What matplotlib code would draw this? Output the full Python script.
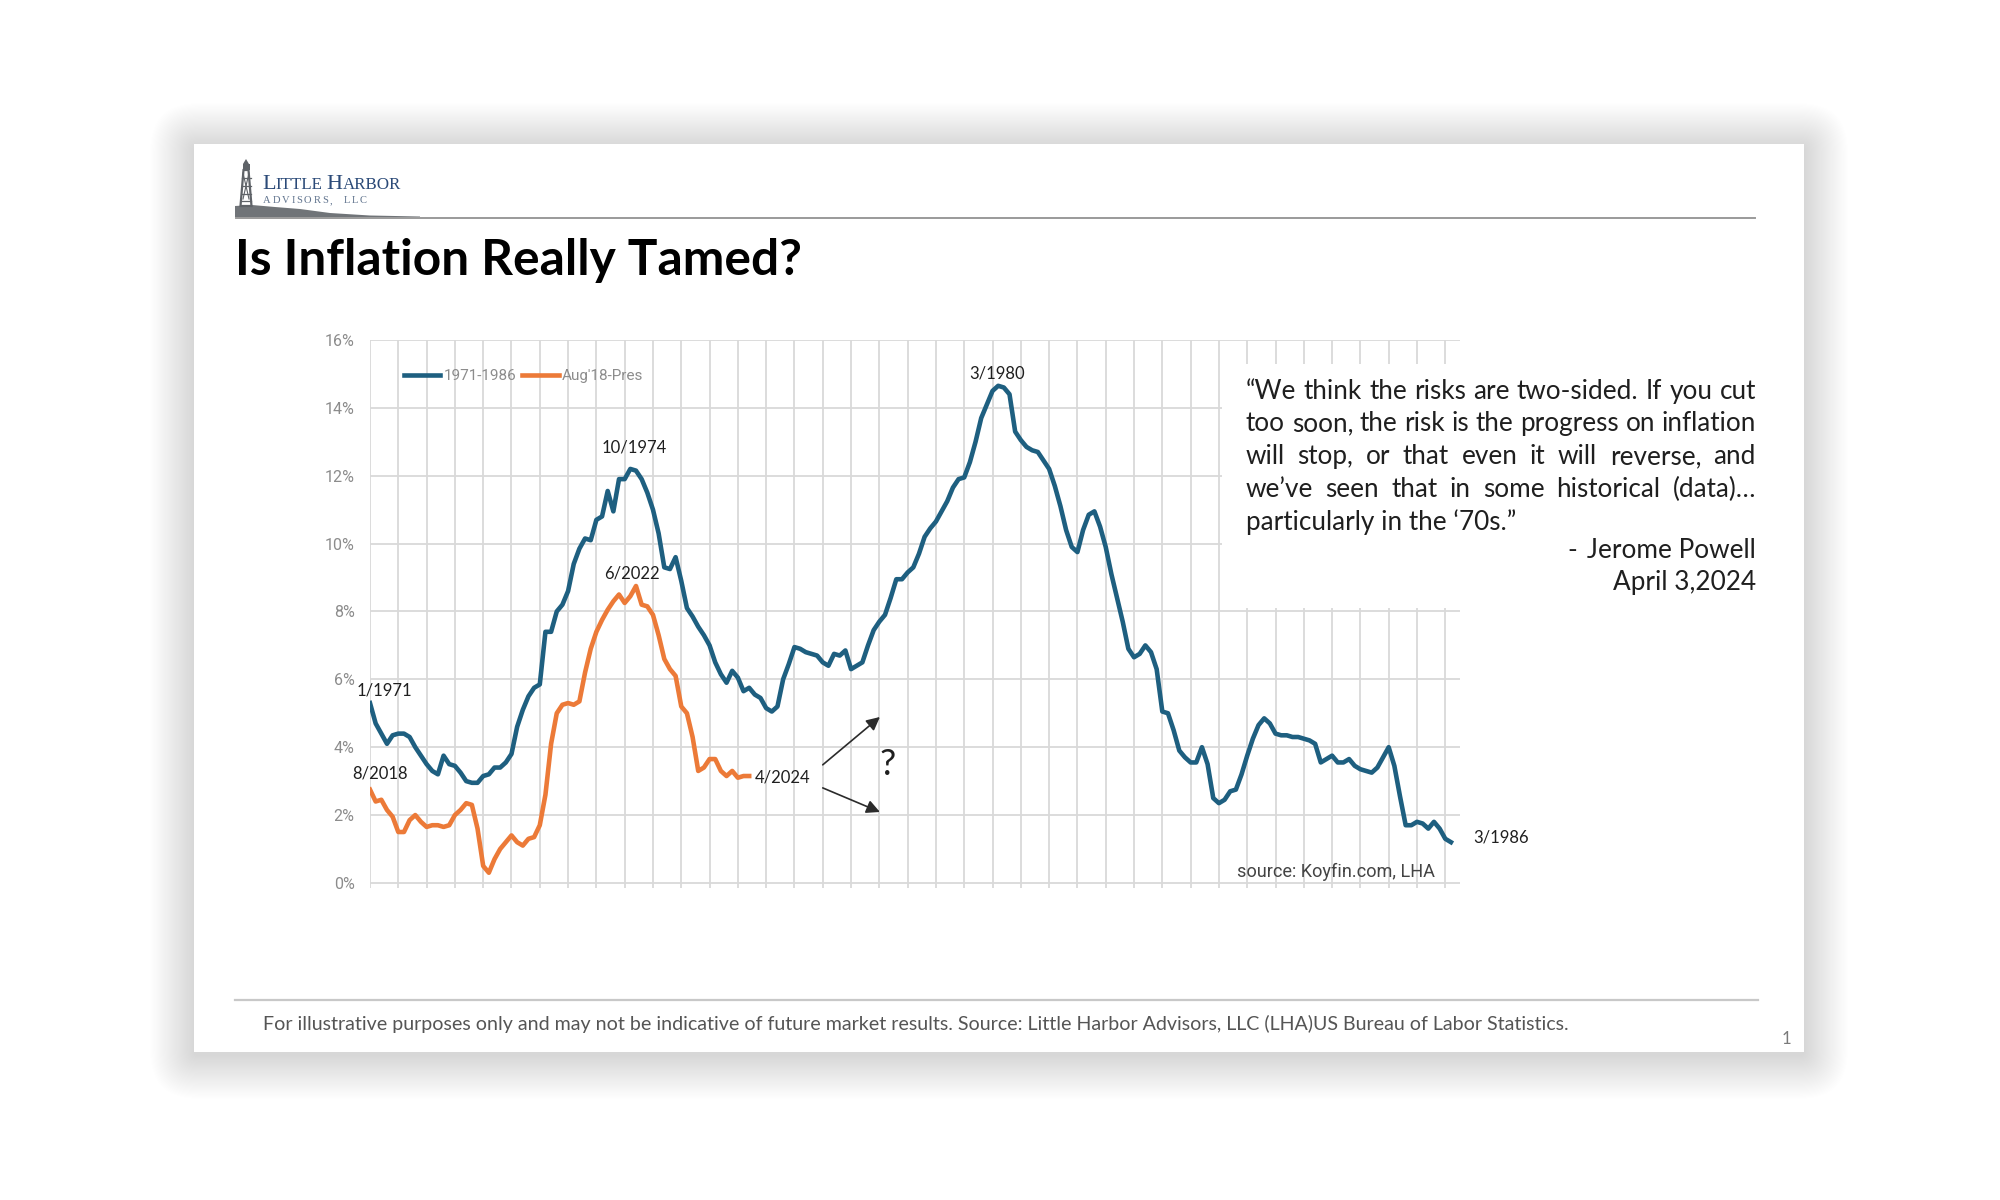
import matplotlib as mpl
mpl.use('Agg')
import numpy as np
import matplotlib.pyplot as plt
from matplotlib.patches import Rectangle, Polygon, FancyBboxPatch

# CPI year-over-year, % (monthly)
cpi_1971_1986 = [
    5.3, 4.7, 4.4, 4.1, 4.35, 4.4, 4.4, 4.3, 4.0, 3.75, 3.5, 3.3,
    3.2, 3.75, 3.5, 3.45, 3.25, 3.0, 2.95, 2.95, 3.15, 3.2, 3.4, 3.4,
    3.55, 3.8, 4.6, 5.1, 5.5, 5.75, 5.85, 7.4, 7.4, 8.0, 8.2, 8.6,
    9.4, 9.85, 10.15, 10.1, 10.7, 10.8, 11.55, 10.95, 11.9, 11.9, 12.2, 12.15,
    11.9, 11.5, 11.0, 10.3, 9.3, 9.25, 9.6, 8.9, 8.1, 7.85, 7.55, 7.3,
    7.0, 6.5, 6.15, 5.9, 6.25, 6.05, 5.65, 5.75, 5.55, 5.45, 5.15, 5.05,
    5.2, 6.0, 6.45, 6.95, 6.9, 6.8, 6.75, 6.7, 6.5, 6.4, 6.75, 6.7,
    6.85, 6.3, 6.4, 6.5, 7.0, 7.45, 7.7, 7.9, 8.4, 8.95, 8.95, 9.15,
    9.3, 9.7, 10.2, 10.45, 10.65, 10.95, 11.25, 11.65, 11.9, 11.95, 12.4, 13.0,
    13.7, 14.1, 14.5, 14.65, 14.6, 14.4, 13.3, 13.05, 12.85, 12.75, 12.7, 12.45,
    12.2, 11.7, 11.1, 10.4, 9.9, 9.75, 10.4, 10.85, 10.95, 10.5, 9.9, 9.1,
    8.4, 7.7, 6.9, 6.65, 6.75, 7.0, 6.8, 6.3, 5.05, 5.0, 4.5, 3.9,
    3.7, 3.55, 3.55, 4.0, 3.5, 2.5, 2.35, 2.45, 2.7, 2.75, 3.2, 3.75,
    4.25, 4.65, 4.85, 4.7, 4.4, 4.35, 4.35, 4.3, 4.3, 4.25, 4.2, 4.1,
    3.55, 3.65, 3.75, 3.55, 3.55, 3.65, 3.45, 3.35, 3.3, 3.25, 3.4, 3.7,
    4.0, 3.45, 2.55, 1.7, 1.7, 1.8, 1.75, 1.6, 1.8, 1.6, 1.3, 1.2,
]
cpi_aug18_pres = [
    2.75, 2.4, 2.45, 2.15, 1.95, 1.5, 1.5, 1.85, 2.0, 1.8,
    1.65, 1.7, 1.7, 1.65, 1.7, 2.0, 2.15, 2.35, 2.3, 1.6,
    0.5, 0.3, 0.7, 1.0, 1.2, 1.4, 1.2, 1.1, 1.3, 1.35,
    1.7, 2.6, 4.1, 5.0, 5.25, 5.3, 5.25, 5.35, 6.2, 6.9,
    7.4, 7.75, 8.05, 8.3, 8.5, 8.25, 8.45, 8.75, 8.2, 8.15,
    7.9, 7.3, 6.6, 6.3, 6.1, 5.2, 5.0, 4.3, 3.3, 3.4,
    3.65, 3.65, 3.3, 3.15, 3.3, 3.1, 3.15, 3.15,
]
series_labels = ['1971-1986', "Aug'18-Pres"]
y_ticks = [0, 2, 4, 6, 8, 10, 12, 14, 16]
y_tick_labels = ['%d%%' % v for v in y_ticks]
months_per_grid = 5

quote_lines = [
    '\u201cWe think the risks are two-sided.  If you cut',
    'too soon, the risk is the progress on inflation',
    'will stop, or that even it will reverse, and',
    'we\u2019ve seen that in some historical (data)\u2026',
    'particularly in the \u201870s.\u201d',
]

BLUE = '#1e5f80'
ORANGE = '#ec7a38'
TXT = '#1f1f1f'

plt.rcParams['font.family'] = ['Lato', 'DejaVu Sans']

W, H = 2000, 1200
fig = plt.figure(figsize=(20, 12), dpi=100)
fig.patch.set_facecolor('white')

def frac(x0, y0, x1, y1):
    return [x0 / W, 1 - y1 / H, (x1 - x0) / W, (y1 - y0) / H]

# background: slide with soft shadow
bg = fig.add_axes([0, 0, 1, 1])
bg.set_xlim(0, W); bg.set_ylim(H, 0); bg.axis('off'); bg.set_zorder(0)
for i in range(40):
    d = 1 + i * 1.1
    bg.add_patch(FancyBboxPatch((194 - d, 147 - d), 1610 + 2 * d, 908 + 2 * d,
                                boxstyle='round,pad=0,rounding_size=%.1f' % (d + 4),
                                fc='black', ec='none', alpha=0.0033))
bg.add_patch(Rectangle((194, 144), 1610, 908, fc='white', ec='none'))

# chart
ax = fig.add_axes(frac(370, 340, 1460, 888))
ax.set_zorder(1)
ax.set_facecolor('none')
x_blue = np.arange(len(cpi_1971_1986))
x_orng = np.arange(len(cpi_aug18_pres))
ax.plot(x_blue, cpi_1971_1986, color=BLUE, lw=3.3, label=series_labels[0], zorder=3,
        solid_joinstyle='round')
ax.plot(x_orng, cpi_aug18_pres, color=ORANGE, lw=3.3, label=series_labels[1], zorder=3,
        solid_joinstyle='round')
ax.set_xlim(0, 192.6)
ax.set_ylim(-0.15, 16)
ax.set_xticks(np.arange(0, len(cpi_1971_1986), months_per_grid))
ax.set_yticks(y_ticks, y_tick_labels)
ax.grid(True, color='#d9d9d9', lw=1.3)
ax.set_axisbelow(True)
ax.tick_params(length=0, labelbottom=False, pad=11)
for lab in ax.get_yticklabels():
    lab.set_fontfamily('Roboto'); lab.set_fontsize(11.5); lab.set_color('#8c8c8c')
for s in ax.spines.values():
    s.set_visible(False)

# white text box covering the grid behind the quote
ax.add_patch(Rectangle((150.5, 8.1), 45, 7.2, fc='white', ec='none', zorder=1))

leg = ax.legend(loc='center left', bbox_to_anchor=(0.024, 0.934), ncol=2, frameon=False,
                handlelength=2.4, handletextpad=0.2, columnspacing=0.4, borderpad=0,
                prop={'family': 'Roboto', 'size': 11})
for t in leg.get_texts():
    t.set_color('#8c8c8c')

lab_kw = dict(textcoords='offset points', fontsize=12, color=TXT)
i74 = int(np.argmax(cpi_1971_1986[:80]))
i80 = int(np.argmax(cpi_1971_1986))
i22 = int(np.argmax(cpi_aug18_pres))
ax.annotate('10/1974', xy=(i74, cpi_1971_1986[i74]), xytext=(3, 10), ha='center', va='bottom', **lab_kw)
ax.annotate('6/2022', xy=(i22, cpi_aug18_pres[i22]), xytext=(-3, 3), ha='center', va='bottom', **lab_kw)
ax.annotate('3/1980', xy=(i80, cpi_1971_1986[i80]), xytext=(-1, 3), ha='center', va='bottom', **lab_kw)
ax.annotate('1/1971', xy=(0, cpi_1971_1986[0]), xytext=(-10, 9), ha='left', va='center', **lab_kw)
ax.annotate('8/2018', xy=(0, cpi_aug18_pres[0]), xytext=(-13, 11.5), ha='left', va='center', **lab_kw)
ax.annotate('4/2024', xy=(x_orng[-1], cpi_aug18_pres[-1]), xytext=(4, -1), ha='left', va='center', **lab_kw)
ax.annotate('3/1986', xy=(x_blue[-1], cpi_1971_1986[-1]), xytext=(16, 3.5), ha='left', va='center', **lab_kw)

# "which way next?" arrows off the last reading
x_end = x_orng[-1]
arr_kw = dict(arrowstyle='-|>', color='#2b2b2b', lw=1.2, mutation_scale=20, shrinkA=0, shrinkB=0)
ax.annotate('', xy=(x_end + 23.1, 4.89), xytext=(x_end + 13, 3.48), arrowprops=arr_kw)
ax.annotate('', xy=(x_end + 23.1, 2.09), xytext=(x_end + 13, 2.80), arrowprops=arr_kw)
ax.text(x_end + 24.5, 3.5, '?', fontsize=26, color=TXT, ha='center', va='center')

# foreground layer in pixel units for slide texts
fg = fig.add_axes([0, 0, 1, 1])
fg.set_xlim(0, W); fg.set_ylim(H, 0); fg.axis('off'); fg.set_zorder(2)
fg.patch.set_alpha(0)
renderer = fig.canvas.get_renderer()

def width_of(s, **kw):
    t = fg.text(0, 0, s, **kw)
    w = t.get_window_extent(renderer).width
    t.remove()
    return w

def fit_size(s, target, size0, **kw):
    return size0 * target / width_of(s, fontsize=size0, **kw)

# header: logo + rule
fg.add_patch(Polygon([[235, 217], [235, 206], [252, 205], [275, 207], [300, 209],
                      [330, 213], [370, 215.5], [420, 216.5], [420, 217]],
                     closed=True, fc='#707478', ec='none'))
fg.add_patch(Polygon([[240.5, 206], [243.5, 170], [248.5, 170], [251.5, 206]],
                     closed=True, fc='none', ec='#5f6368', lw=1.6))
for yy in (178, 186, 194, 201):
    fg.plot([241.5, 250.5], [yy, yy], color='#5f6368', lw=0.9)
fg.plot([243, 249], [199, 173], color='#5f6368', lw=0.8)
fg.plot([249, 243], [199, 173], color='#5f6368', lw=0.8)
fg.add_patch(Rectangle((242.5, 164), 7, 6, fc='#5f6368', ec='none'))
fg.add_patch(Polygon([[243, 164], [246, 159], [249, 164]], closed=True, fc='#5f6368', ec='none'))
fg.plot([236, 1755], [217.5, 217.5], color='#9a9a9a', lw=1.4)

serif = 'Liberation Serif'
parts = [('L', 16), ('ITTLE', 12.2), (' ', 12.2), ('H', 16), ('ARBOR', 12.2)]
xx = 262
for s, sz in parts:
    fg.text(xx, 189, s, fontsize=sz, family=serif, color='#2b4a78', va='baseline', ha='left')
    xx += width_of(s, fontsize=sz, family=serif)
xx = 263
for ch in 'ADVISORS,  LLC':
    fg.text(xx, 203, ch, fontsize=7.6, family=serif, color='#62758f', va='baseline', ha='left')
    xx += width_of(ch if ch != ' ' else 'n', fontsize=7.6, family=serif) * (0.55 if ch == ' ' else 1) + 1.8

# title
title = 'Is Inflation Really Tamed?'
tsz = fit_size(title, 566, 30, fontweight='bold')
fg.text(235, 275, title, fontsize=tsz, fontweight='bold', color='black', va='baseline', ha='left')

# quote, justified
qx0, qx1 = 1246, 1756
qsz = fit_size(quote_lines[1], qx1 - qx0, 17)
baselines = [399, 431, 464, 497, 530]
for k, (line, yb) in enumerate(zip(quote_lines, baselines)):
    if k == len(quote_lines) - 1:
        fg.text(qx0, yb, line, fontsize=qsz, color=TXT, va='baseline', ha='left')
        continue
    words = line.split()
    ws = [width_of(w, fontsize=qsz) for w in words]
    gap = (qx1 - qx0 - sum(ws)) / (len(words) - 1)
    xx = qx0
    for w, wd in zip(words, ws):
        fg.text(xx, yb, w, fontsize=qsz, color=TXT, va='baseline', ha='left')
        xx += wd + gap
fg.text(1567, 558, '-', fontsize=qsz, color=TXT, va='baseline', ha='left')
fg.text(qx1, 558, 'Jerome Powell', fontsize=qsz, color=TXT, va='baseline', ha='right')
fg.text(qx1, 590, 'April 3,2024', fontsize=qsz, color=TXT, va='baseline', ha='right')

src = 'source: Koyfin.com, LHA'
ssz = fit_size(src, 198, 11, family='Roboto')
fg.text(1237, 877, src, fontsize=ssz, family='Roboto', color='#444444', va='baseline', ha='left')

# footer
fg.plot([235, 1758], [1000, 1000], color='#c8c8c8', lw=1.6)
foot = ('For illustrative purposes only and may not be indicative of future market results. '
        'Source: Little Harbor Advisors, LLC (LHA)US Bureau of Labor Statistics.')
fsz = fit_size(foot, 1307, 11)
fg.text(263, 1030, foot, fontsize=fsz, color='#555555', va='baseline', ha='left')
fg.text(1786, 1044, '1', fontsize=12, color='#7a7a7a', va='baseline', ha='center')

plt.savefig('out.png', dpi=100)
